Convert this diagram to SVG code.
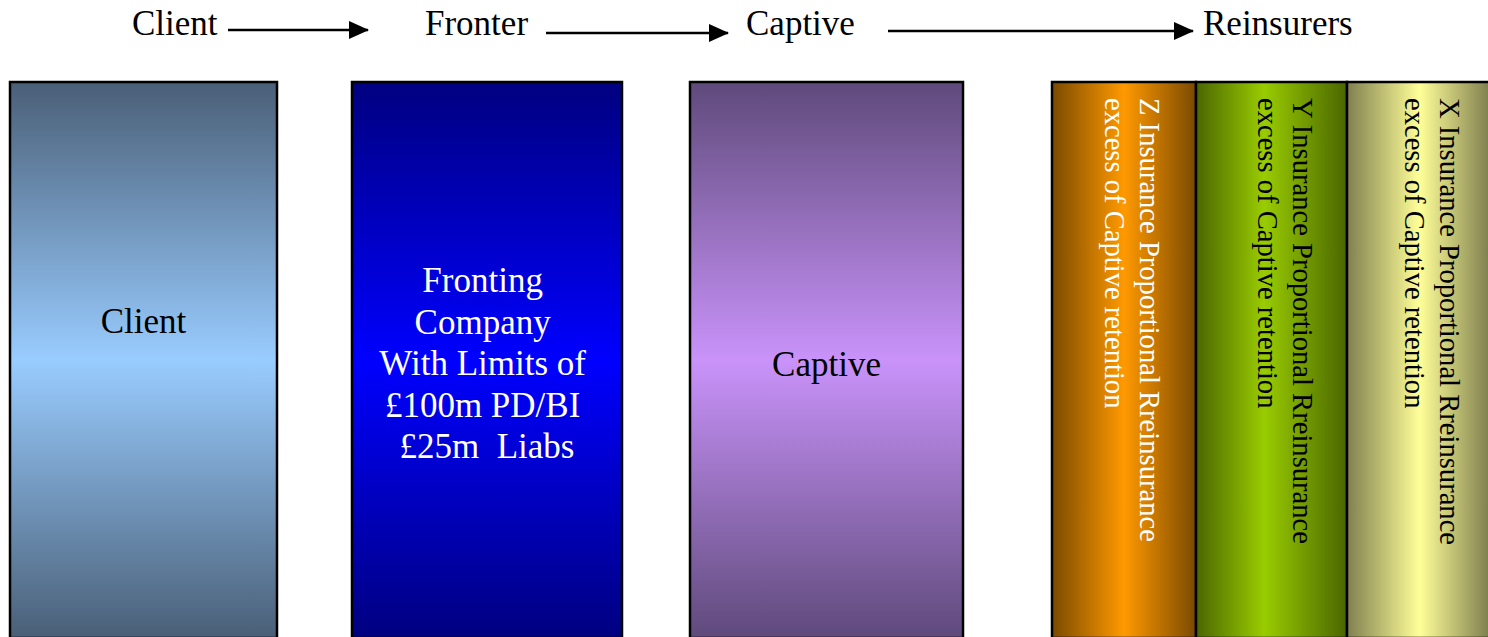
<svg xmlns="http://www.w3.org/2000/svg" width="1488" height="637" viewBox="0 0 1488 637">
<style>
.t{font-family:"Liberation Serif","Times New Roman",serif;}
.hdr{font-size:35px;fill:#000;}
.box{stroke:#000;stroke-width:2.5;}
.lbl{font-size:35px;text-anchor:middle;}
.vt{font-size:28.6px;}
.ln{stroke:#000;stroke-width:2.5;fill:none;}
</style>
<defs>
<linearGradient id="gClient" x1="0" y1="0" x2="0" y2="1">
<stop offset="0" stop-color="#4a5f77"/><stop offset="0.5" stop-color="#99ccff"/><stop offset="1" stop-color="#4a5f77"/>
</linearGradient>
<linearGradient id="gFront" x1="0" y1="0" x2="0" y2="1">
<stop offset="0" stop-color="#000080"/><stop offset="0.5" stop-color="#0000ff"/><stop offset="1" stop-color="#000080"/>
</linearGradient>
<linearGradient id="gCapt" x1="0" y1="0" x2="0" y2="1">
<stop offset="0" stop-color="#5f4a7b"/><stop offset="0.5" stop-color="#c993fa"/><stop offset="1" stop-color="#5f4a7b"/>
</linearGradient>
<linearGradient id="gZ" x1="0" y1="0" x2="1" y2="0">
<stop offset="0" stop-color="#7a4a00"/><stop offset="0.5" stop-color="#ff9900"/><stop offset="1" stop-color="#7a4a00"/>
</linearGradient>
<linearGradient id="gY" x1="0" y1="0" x2="1" y2="0">
<stop offset="0" stop-color="#4a6600"/><stop offset="0.45" stop-color="#99cc00"/><stop offset="1" stop-color="#4a6600"/>
</linearGradient>
<linearGradient id="gX" x1="0" y1="0" x2="1" y2="0">
<stop offset="0" stop-color="#808050"/><stop offset="0.5" stop-color="#ffff99"/><stop offset="1" stop-color="#7a7a4c"/>
</linearGradient>
<marker id="ah" viewBox="0 0 20 18" refX="19" refY="9" markerWidth="20" markerHeight="18" markerUnits="userSpaceOnUse" orient="auto">
<path d="M0,0 L20,9 L0,18 Z" fill="#000"/>
</marker>
</defs>

<g id="headers" class="t hdr">
<text x="132" y="35">Client</text>
<text x="425" y="35">Fronter</text>
<text x="746" y="35">Captive</text>
<text x="1203" y="35">Reinsurers</text>
</g>

<g id="connectors">
<line class="ln" x1="228" y1="30" x2="368" y2="30" marker-end="url(#ah)"/>
<line class="ln" x1="546" y1="33" x2="728" y2="33" marker-end="url(#ah)"/>
<line class="ln" x1="888" y1="31" x2="1193" y2="31" marker-end="url(#ah)"/>
</g>

<g id="client">
<rect class="box" x="10" y="82" width="267" height="556" fill="url(#gClient)"/>
<text class="t lbl" x="143.5" y="333" fill="#000">Client</text>
</g>

<g id="fronter">
<rect class="box" x="352" y="82" width="270" height="556" fill="url(#gFront)"/>
<text class="t lbl" x="487" fill="#fff">
<tspan x="487" y="292">Fronting</tspan>
<tspan x="487" y="333.5">Company</tspan>
<tspan x="487" y="375">With Limits of</tspan>
<tspan x="487" y="416.5">£100m PD/BI</tspan>
<tspan x="487" y="458" xml:space="preserve">£25m  Liabs</tspan>
</text>
</g>

<g id="captive">
<rect class="box" x="690" y="82" width="273" height="556" fill="url(#gCapt)"/>
<text class="t lbl" x="826.5" y="376" fill="#000">Captive</text>
</g>

<g id="reinsurerZ">
<rect class="box" x="1052" y="82" width="144" height="556" fill="url(#gZ)"/>
<text class="t vt" fill="#fff" transform="translate(1140,98) rotate(90)">
<tspan x="0" y="0">Z Insurance Proportional Rreinsurance</tspan>
<tspan x="0" y="35">excess of Captive retention</tspan>
</text>
</g>

<g id="reinsurerY">
<rect class="box" x="1196" y="82" width="151" height="556" fill="url(#gY)"/>
<text class="t vt" fill="#000" transform="translate(1293,98) rotate(90)">
<tspan x="0" y="0">Y Insurance Proportional Rreinsurance</tspan>
<tspan x="0" y="35">excess of Captive retention</tspan>
</text>
</g>

<g id="reinsurerX">
<rect class="box" x="1347" y="82" width="145" height="556" fill="url(#gX)"/>
<text class="t vt" fill="#000" transform="translate(1440,98) rotate(90)">
<tspan x="0" y="0">X Insurance Proportional Rreinsurance</tspan>
<tspan x="0" y="35">excess of Captive retention</tspan>
</text>
</g>
</svg>
